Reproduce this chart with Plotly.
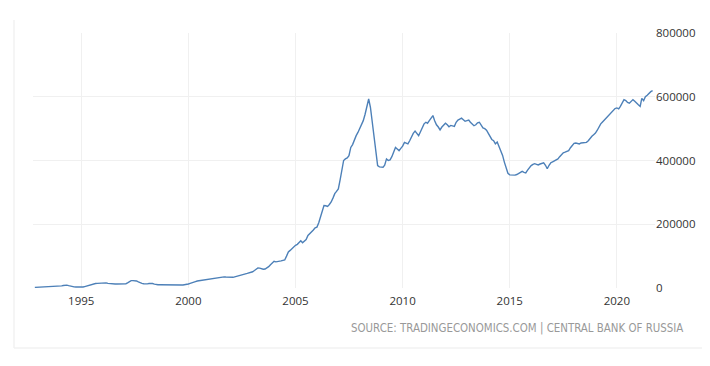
import plotly.graph_objects as go
import pandas as pd

start_month = "1992-11-01"
end_month = "2021-09-01"

v1992 = [2000, 2200]
v1993 = [2400, 2600, 2900, 3200, 3500, 3800, 4000, 4300, 4600, 5000, 5400, 5800]
v1994 = [6000, 6800, 7800, 8800, 9000, 7500, 5500, 4000, 3500, 3000, 2500, 2200]
v1995 = [2000, 3000, 4500, 6000, 8500, 11000, 12500, 13500, 14000, 14500, 14800, 16000]
v1996 = [17500, 17700, 16000, 14600, 13500, 13000, 12500, 12500, 12500, 12500, 12500, 12500]
v1997 = [12500, 13500, 16000, 20000, 23000, 23000, 22500, 22000, 19000, 16000, 14600, 13500]
v1998 = [12500, 13000, 14000, 14600, 14000, 12000, 10000, 10000, 10000, 9800, 9600, 9500]
v1999 = [9400, 9400, 9400, 9400, 9400, 9400, 9400, 9400, 9400, 9500, 10000, 11000]
v2000 = [12500, 14500, 15500, 17500, 20000, 22000, 23000, 24000, 25000, 26000, 26500, 27000]
v2001 = [27500, 28000, 29000, 30500, 32000, 33500, 35000, 35500, 35000, 34500, 34000, 33500]
v2002 = [33000, 33500, 35000, 37000, 39000, 40500, 42000, 43500, 44500, 46000, 47000, 48500]
v2003 = [51000, 55000, 59000, 63000, 62500, 60500, 59000, 59500, 63000, 67000, 73000, 80000]
v2004 = [84000, 82000, 82500, 83500, 85000, 86500, 88000, 100000, 113000, 118000, 124000, 130000]
v2005 = [134000, 137000, 141000, 148000, 142000, 147000, 152000, 165000, 170000, 175000, 182000, 189000]
v2006 = [191000, 205000, 224000, 244000, 259000, 258000, 256000, 262000, 270000, 282000, 296000, 303000]
v2007 = [311000, 340000, 372000, 400000, 405000, 408000, 415000, 441000, 450000, 465000, 478000, 488000]
v2008 = [500000, 512000, 525000, 545000, 568000, 593000, 567000, 520000, 473000, 420000, 384000, 380000]
v2009 = [380000, 379000, 385000, 405000, 400000, 402000, 412000, 428000, 441000, 436000, 431000, 438000]
v2010 = [445000, 457000, 455000, 452000, 462000, 475000, 485000, 492000, 485000, 478000, 490000, 505000]
v2011 = [515000, 520000, 517000, 525000, 535000, 541000, 525000, 512000, 505000, 496000, 505000, 512000]
v2012 = [517000, 512000, 506000, 510000, 509000, 507000, 520000, 527000, 530000, 533000, 528000, 523000]
v2013 = [525000, 527000, 520000, 514000, 509000, 512000, 518000, 520000, 512000, 502000, 500000, 495000]
v2014 = [485000, 473000, 466000, 462000, 452000, 458000, 445000, 431000, 416000, 395000, 374000, 360000]
v2015 = [355000, 354000, 353000, 354000, 356000, 360000, 364000, 366000, 363000, 361000, 370000, 378000]
v2016 = [384000, 388000, 390000, 388000, 386000, 389000, 392000, 393000, 385000, 374000, 385000, 393000]
v2017 = [396000, 400000, 403000, 405000, 412000, 418000, 424000, 426000, 428000, 431000, 440000, 448000]
v2018 = [454000, 455000, 453000, 452000, 455000, 456000, 457000, 457000, 462000, 470000, 476000, 481000]
v2019 = [486000, 495000, 505000, 515000, 521000, 527000, 531000, 537000, 543000, 548000, 556000, 563000]
v2020 = [565000, 562000, 570000, 580000, 591000, 588000, 582000, 580000, 585000, 591000, 586000, 582000]
v2021 = [575000, 570000, 595000, 588000, 600000, 605000, 612000, 616000, 619000]

values = (v1992 + v1993 + v1994 + v1995 + v1996 + v1997 + v1998 + v1999 + v2000 + v2001
          + v2002 + v2003 + v2004 + v2005 + v2006 + v2007 + v2008 + v2009 + v2010 + v2011
          + v2012 + v2013 + v2014 + v2015 + v2016 + v2017 + v2018 + v2019 + v2020 + v2021)

dates = pd.date_range(start_month, end_month, freq="MS")

x_ticks = ["1995-01-01", "2000-01-01", "2005-01-01", "2010-01-01", "2015-01-01", "2020-01-01"]
x_tick_labels = ["1995", "2000", "2005", "2010", "2015", "2020"]
y_ticks = [0, 200000, 400000, 600000, 800000]
y_tick_labels = ["0", "200000", "400000", "600000", "800000"]
source_text = "SOURCE: TRADINGECONOMICS.COM | CENTRAL BANK OF RUSSIA"

fig = go.Figure()
fig.add_trace(go.Scatter(x=dates, y=values, mode="lines",
                         line=dict(color="#4d80b8", width=1.4), hoverinfo="x+y"))

fig.update_layout(
    width=702, height=358,
    margin=dict(l=25, r=55, t=25, b=78),
    paper_bgcolor="white", plot_bgcolor="white",
    showlegend=False,
    font=dict(family="Open Sans, sans-serif", size=11.5, color="#333333"),
    xaxis=dict(range=["1992-10-01", "2021-10-12"], tickmode="array", tickvals=x_ticks,
               ticktext=x_tick_labels, showgrid=True, gridcolor="#f0f0f0", gridwidth=1,
               zeroline=False, showline=False, ticks="", ticklabelstandoff=4),
    yaxis=dict(range=[0, 800000], side="right", tickmode="array", tickvals=y_ticks,
               ticktext=y_tick_labels, showgrid=True, gridcolor="#f0f0f0", gridwidth=1,
               zeroline=False, showline=False, ticks=""),
    annotations=[dict(text=source_text, xref="paper", yref="paper", x=1.048, y=-0.157,
                      xanchor="right", yanchor="middle", showarrow=False,
                      font=dict(family="Liberation Sans Narrow, DejaVu Sans Condensed, sans-serif",
                                size=11.4, color="#999999"))],
    shapes=[
        dict(type="line", xref="paper", yref="paper", x0=-0.0305, x1=-0.0305, y0=1.051, y1=-0.235,
             line=dict(color="#f2f2f2", width=1.5)),
        dict(type="line", xref="paper", yref="paper", x0=-0.0305, x1=1.1, y0=-0.235, y1=-0.235,
             line=dict(color="#f2f2f2", width=1.5)),
    ],
)

fig.write_html("out.html")
